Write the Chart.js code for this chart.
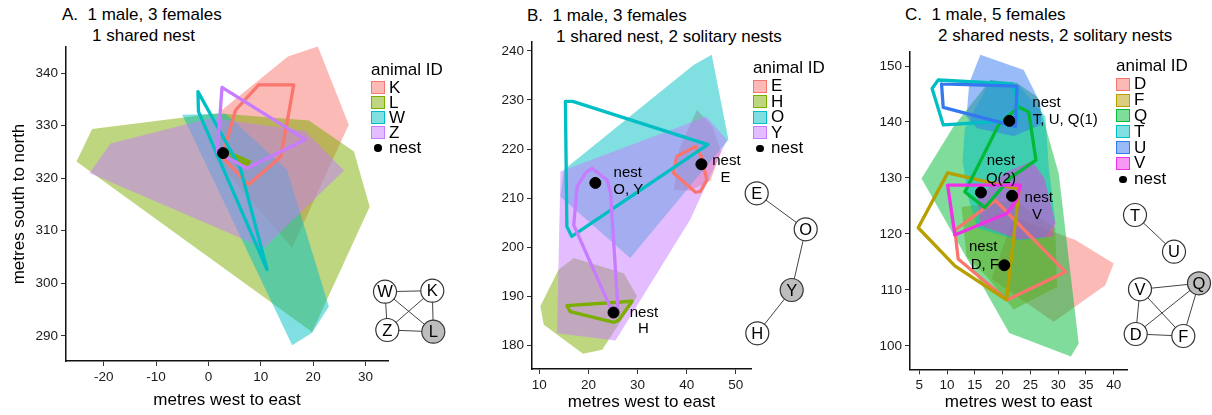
<!DOCTYPE html>
<html>
<head>
<meta charset="utf-8">
<script src="https://cdn.jsdelivr.net/npm/chart.js@4.4.1/dist/chart.umd.min.js"></script>
<style>
  body { margin: 0; width: 1212px; height: 415px; background: #fff; position: relative; overflow: hidden;
         font-family: "Liberation Sans", Arial, sans-serif; color: #000; }
  canvas { position: absolute; }
  .ttl { position: absolute; font-size: 17px; line-height: 20px; white-space: pre; }
  .lgt, .lrow { position: absolute; font-size: 17px; white-space: nowrap; }
  .lgt { line-height: 20px; }
  .lrow { padding-left: 18px; }
  .sw { position: absolute; left: 0; width: 14px; height: 13px; box-sizing: border-box; border: 1.5px solid; }
  .dot { position: absolute; left: 3px; width: 7.5px; height: 7.5px; border-radius: 50%; background: #000; }
</style>
</head>
<body>
<div class="ttl" style="left:62px;top:5px">A.  1 male, 3 females</div>
<div class="ttl" style="left:92px;top:26px">1 shared nest</div>
<div class="ttl" style="left:527px;top:6px">B.  1 male, 3 females</div>
<div class="ttl" style="left:556px;top:27px">1 shared nest, 2 solitary nests</div>
<div class="ttl" style="left:905px;top:5px">C.  1 male, 5 females</div>
<div class="ttl" style="left:938px;top:26px">2 shared nests, 2 solitary nests</div>

<canvas id="panelA" width="1212" height="415" style="left:0;top:0"></canvas>
<canvas id="panelB" width="1212" height="415" style="left:0;top:0"></canvas>
<canvas id="panelC" width="1212" height="415" style="left:0;top:0"></canvas>
<canvas id="netA" width="100" height="80" style="left:355px;top:270px"></canvas>
<canvas id="netB" width="95" height="185" style="left:735px;top:170px"></canvas>
<canvas id="netC" width="100" height="160" style="left:1112px;top:195px"></canvas>

<script>
//  DATA

const hue4 = ['#F8766D', '#7CAE00', '#00BFC4', '#C77CFF'];
const hue6 = ['#F8766D', '#B79F00', '#00BA38', '#00BFC4', '#3378F0', '#F032E6'];

// panel A
const idsA = ['K', 'L', 'W', 'Z'];
const xTicksA = [-20, -10, 0, 10, 20, 30];
const yTicksA = [290, 300, 310, 320, 330, 340];
const rangeA_K = [[20.9, 345.1], [15.2, 343.2], [2.6, 333.0], [1.0, 324.0], [16.0, 306.7], [26.8, 330.2]];
const rangeA_L = [[-25.2, 323.2], [-22.2, 329.4], [1.7, 332.4], [19.2, 331.0], [27.8, 325.1], [30.8, 314.6], [19.8, 290.7]];
const rangeA_W = [[-5.0, 332.1], [3.3, 332.3], [15.0, 321.6], [23.0, 295.6], [19.8, 290.6], [16.0, 288.2]];
const rangeA_Z = [[-22.7, 321.0], [-18.7, 326.6], [0.5, 331.5], [18.5, 329.0], [25.9, 321.5], [10.6, 306.7]];
const coreA_K = [[9.6, 337.8], [16.3, 337.8], [15.0, 330.5], [13.8, 324.1], [7.7, 318.8], [2.6, 324.1], [5.2, 333.0]];
const coreA_L = [[2.6, 325.4], [7.8, 323.2], [7.5, 322.6], [2.9, 324.4]];
const coreA_W = [[-2.0, 336.5], [6.1, 321.9], [11.2, 302.6], [-1.9, 332.7]];
const coreA_Z = [[2.6, 337.3], [18.5, 327.4], [7.4, 321.9], [1.7, 325.0]];
const nestsA = [[2.8, 324.8]];

// panel B
const idsB = ['E', 'H', 'O', 'Y'];
const xTicksB = [10, 20, 30, 40, 50];
const yTicksB = [180, 190, 200, 210, 220, 230, 240];
const rangeB_E = [[42.1, 228.0], [45.3, 224.5], [47.0, 219.5], [44.8, 213.5], [40.5, 211.5], [37.4, 211.7], [38.5, 220.0]];
const rangeB_H = [[10.2, 188.0], [10.9, 184.2], [18.9, 178.3], [22.8, 179.1], [29.9, 190.0], [27.2, 194.7], [17.0, 197.8], [13.9, 195.4]];
const rangeB_O = [[14.3, 210.3], [15.0, 215.8], [41.4, 237.1], [45.1, 239.2], [48.5, 221.9], [28.5, 197.8]];
const rangeB_Y = [[13.6, 182.5], [14.3, 215.4], [44.0, 226.6], [48.2, 221.9], [40.7, 205.6], [25.5, 181.0]];
const coreB_E = [[38.0, 218.5], [41.8, 220.5], [43.0, 218.5], [44.1, 213.7], [42.8, 211.4], [41.8, 211.2], [37.3, 215.1]];
const coreB_H = [[15.6, 188.1], [28.9, 189.0], [26.2, 185.2], [25.2, 184.7], [16.3, 186.9]];
const coreB_O = [[15.3, 229.7], [16.8, 229.7], [44.3, 220.9], [16.6, 202.2], [15.6, 204.2]];
const coreB_Y = [[20.7, 216.1], [23.8, 213.7], [24.5, 211.0], [26.0, 187.5], [24.8, 187.0], [17.0, 204.5], [17.7, 212.4], [19.4, 215.1]];
const nestsB = [[21.4, 213.1], [43.0, 216.9], [25.1, 186.7]];
const nestTextB = [[28.0, 215.2, 'nest'], [28.1, 211.6, 'O, Y'], [48.1, 217.6, 'nest'], [47.9, 214.1, 'E'],
                   [31.3, 186.6, 'nest'], [31.2, 183.3, 'H']];

// panel C
const idsC = ['D', 'F', 'Q', 'T', 'U', 'V'];
const xTicksC = [5, 10, 15, 20, 25, 30, 35, 40];
const yTicksC = [100, 110, 120, 130, 140, 150];
const rangeC_D = [[22.0, 123.0], [33.1, 118.9], [40.0, 114.7], [38.5, 110.8], [29.2, 104.3], [18.0, 112.0]];
const rangeC_F = [[12.6, 124.8], [22.0, 126.0], [29.5, 121.0], [29.8, 110.5], [22.0, 106.5], [17.2, 112.3], [13.5, 116.0]];
const rangeC_Q = [[5.4, 129.9], [11.1, 139.1], [17.8, 147.5], [22.5, 147.0], [26.2, 144.5], [30.1, 130.8], [33.7, 100.4], [32.3, 98.1], [21.2, 102.3]];
const rangeC_T = [[17.8, 147.5], [23.0, 146.5], [27.7, 141.0], [28.3, 132.0], [29.5, 122.0], [27.5, 119.3], [22.9, 118.8], [15.5, 121.0], [13.8, 126.5], [12.8, 133.0], [13.2, 138.9]];
const rangeC_U = [[16.0, 152.0], [23.8, 149.3], [26.8, 143.3], [27.0, 139.5], [22.0, 137.5], [15.4, 138.9], [13.5, 141.0], [14.0, 147.0]];
const rangeC_V = [[20.5, 131.0], [25.3, 133.0], [27.5, 130.0], [29.5, 122.0], [29.0, 119.5], [22.9, 119.0], [16.0, 121.5], [15.5, 126.3]];
const coreC_D = [[18.7, 126.0], [31.3, 113.2], [20.8, 108.2], [12.0, 115.5], [11.4, 120.7]];
const coreC_F = [[10.1, 130.9], [23.0, 128.0], [20.7, 108.2], [11.4, 114.3], [4.8, 121.1]];
const coreC_Q = [[19.3, 139.5], [22.9, 142.7], [24.7, 141.8], [26.0, 133.2], [21.4, 130.0], [16.8, 124.7], [13.2, 127.5]];
const coreC_T = [[8.4, 147.5], [21.7, 146.8], [22.6, 144.2], [22.6, 140.3], [9.3, 139.5], [7.3, 146.0]];
const coreC_U = [[9.0, 146.8], [22.6, 146.4], [22.3, 139.2], [9.3, 142.6]];
const coreC_V = [[10.1, 128.7], [23.2, 128.7], [22.5, 126.0], [20.8, 123.7], [11.4, 119.8]];
const nestsC = [[21.2, 140.2], [16.1, 127.4], [21.7, 126.8], [20.3, 114.4]];
const nestTextC = [[27.9, 143.5, 'nest'], [31.3, 140.3, 'T, U, Q(1)'], [19.7, 133.0, 'nest'], [19.7, 129.8, 'Q(2)'],
                   [26.5, 126.4, 'nest'], [26.2, 123.4, 'V'], [16.5, 117.6, 'nest'], [16.8, 114.4, 'D, F']];

// association networks (layout units = px inside each small canvas)
const netA_names = ['W', 'K', 'Z', 'L'];
const netA_x = [30, 77.3, 32.3, 78.3];
const netA_y = [21.7, 20.7, 60, 61.7];
const netA_edges = [['W', 'K'], ['W', 'Z'], ['W', 'L'], ['K', 'Z'], ['K', 'L'], ['Z', 'L']];
const netA_male = ['L'];

const netB_names = ['E', 'O', 'Y', 'H'];
const netB_x = [21.7, 70.7, 56.7, 22.3];
const netB_y = [23.3, 59.3, 120, 163.3];
const netB_edges = [['E', 'O'], ['O', 'Y'], ['Y', 'H']];
const netB_male = ['Y'];

const netC_names = ['T', 'U', 'V', 'Q', 'D', 'F'];
const netC_x = [23, 62, 28, 87, 23.7, 71.3];
const netC_y = [20, 56.7, 94.3, 88.3, 139, 141];
const netC_edges = [['T', 'U'], ['V', 'Q'], ['V', 'D'], ['V', 'F'], ['Q', 'D'], ['Q', 'F'], ['D', 'F']];
const netC_male = ['Q'];

//  HELPERS

const FONT = '"Liberation Sans", Arial, sans-serif';
Chart.defaults.font.family = FONT;
Chart.defaults.color = '#000';

function hexA(hex, a) {
    const n = parseInt(hex.slice(1), 16);
    return 'rgba(' + (n >> 16) + ',' + ((n >> 8) & 255) + ',' + (n & 255) + ',' + a + ')';
}

function toXY(list) {
    return list.map(p => ({x: p[0], y: p[1]}));
}

function textPlugin(items, size) {
    return {
        id: 'nestText',
        afterDatasetsDraw(chart) {
            const {ctx, scales} = chart;
            ctx.save();
            ctx.font = size + 'px ' + FONT;
            ctx.fillStyle = '#000';
            ctx.textAlign = 'center';
            ctx.textBaseline = 'middle';
            items.forEach(t => ctx.fillText(t[2], scales.x.getPixelForValue(t[0]), scales.y.getPixelForValue(t[1])));
            ctx.restore();
        }
    };
}

function axis(min, max, ticks, title, fitSize, isX, titlePad) {
    return {
        type: 'linear',
        min: min,
        max: max,
        afterBuildTicks: s => { s.ticks = ticks.map(v => ({value: v})); },
        afterFit: s => { if (isX) s.height = fitSize; else s.width = fitSize; },
        grid: {display: true, drawOnChartArea: false, drawTicks: true, tickLength: 5, color: '#333', lineWidth: 1},
        border: {display: true, color: '#111', width: 1.5},
        ticks: {color: '#1a1a1a', font: {size: 13.5}, padding: 3, maxRotation: 0, autoSkip: false},
        title: {display: !!title, text: title, color: '#000', font: {size: 17}, padding: titlePad}
    };
}

function rangeChart(id, p) {
    const datasets = [];
    p.ids.forEach((name, i) => {
        datasets.push({
            label: name, data: toXY(p.ranges[i]), showLine: true, fill: 'shape',
            backgroundColor: hexA(p.colors[i], 0.5), borderColor: 'rgba(0,0,0,0)', borderWidth: 0,
            pointRadius: 0, pointHoverRadius: 0, order: 300 - i
        });
    });
    p.ids.forEach((name, i) => {
        const ring = p.cores[i].concat([p.cores[i][0]]);
        datasets.push({
            label: name + ' core', data: toXY(ring), showLine: true, fill: false,
            borderColor: p.colors[i], borderWidth: 3.3, borderJoinStyle: 'round', borderCapStyle: 'round',
            pointRadius: 0, pointHoverRadius: 0, order: 200 - i
        });
    });
    datasets.push({
        label: 'nest', data: toXY(p.nests), showLine: false,
        pointRadius: 5.5, pointHoverRadius: 5.5, backgroundColor: '#000', borderColor: '#000', order: 0
    });

    return new Chart(document.getElementById(id), {
        type: 'scatter',
        data: {datasets: datasets},
        options: {
            responsive: false,
            animation: false,
            devicePixelRatio: 1,
            layout: {padding: p.pad, autoPadding: false},
            plugins: {legend: {display: false}, tooltip: {enabled: false}},
            scales: {
                x: axis(p.xMin, p.xMax, p.xTicks, 'metres west to east', p.xH, true, {top: 0, bottom: p.xTitlePad}),
                y: axis(p.yMin, p.yMax, p.yTicks, p.yTitle, p.yW, false, {top: p.yTitlePad, bottom: 0})
            }
        },
        plugins: [textPlugin(p.text || [], 15)]
    });
}

function netChart(id, w, h, names, xs, ys, edges, male) {
    const at = nm => { const k = names.indexOf(nm); return {x: xs[k], y: ys[k]}; };
    const datasets = edges.map(e => ({
        data: [at(e[0]), at(e[1])], showLine: true, borderColor: '#444', borderWidth: 1,
        pointRadius: 0, pointHoverRadius: 0, clip: false, order: 10
    }));
    datasets.push({
        data: names.map(at), pointRadius: 11.5, pointHoverRadius: 11.5,
        pointBackgroundColor: names.map(nm => male.includes(nm) ? '#bdbdbd' : '#fff'),
        pointBorderColor: '#333', pointBorderWidth: 1.2, clip: false, order: 0
    });
    const labels = {
        id: 'nodeText',
        afterDatasetsDraw(chart) {
            const {ctx, scales} = chart;
            ctx.save();
            ctx.font = '16.5px ' + FONT;
            ctx.fillStyle = '#000';
            ctx.textAlign = 'center';
            ctx.textBaseline = 'middle';
            names.forEach((nm, k) => ctx.fillText(nm, scales.x.getPixelForValue(xs[k]), scales.y.getPixelForValue(ys[k]) + 1));
            ctx.restore();
        }
    };
    return new Chart(document.getElementById(id), {
        type: 'scatter',
        data: {datasets: datasets},
        options: {
            responsive: false, animation: false, devicePixelRatio: 1,
            layout: {padding: 0, autoPadding: false},
            plugins: {legend: {display: false}, tooltip: {enabled: false}},
            scales: {
                x: {type: 'linear', min: 0, max: w, display: false},
                y: {type: 'linear', min: 0, max: h, reverse: true, display: false}
            }
        },
        plugins: [labels]
    });
}

function buildLegend(left, titleBase, firstRow, rowH, ids, colors) {
    let html = '<div class="lgt" style="left:' + left + 'px;top:' + (titleBase - 15.9) + 'px">animal ID</div>';
    ids.concat(['nest']).forEach((name, i) => {
        const top = firstRow + i * rowH - rowH / 2;
        const mark = i < ids.length
            ? '<span class="sw" style="background:' + hexA(colors[i], 0.5) + ';border-color:' + colors[i] + ';top:' + (rowH / 2 - 6.5) + 'px"></span>'
            : '<span class="dot" style="top:' + (rowH / 2 - 3.2) + 'px"></span>';
        html += '<div class="lrow" style="left:' + left + 'px;top:' + top + 'px;height:' + rowH + 'px;line-height:' + rowH + 'px">' + mark + name + '</div>';
    });
    document.body.insertAdjacentHTML('beforeend', html);
}

//  CHARTS

rangeChart('panelA', {
    ids: idsA, colors: hue4,
    ranges: [rangeA_K, rangeA_L, rangeA_W, rangeA_Z],
    cores: [coreA_K, coreA_L, coreA_W, coreA_Z],
    nests: nestsA,
    xMin: -27.2, xMax: 34.3, yMin: 285.2, yMax: 345.0,
    xTicks: xTicksA, yTicks: yTicksA,
    pad: {left: 0, right: 824, top: 47, bottom: 0},
    yW: 66, xH: 54, xTitlePad: 4, yTitle: 'metres south to north', yTitlePad: 8.8
});

rangeChart('panelB', {
    ids: idsB, colors: hue4,
    ranges: [rangeB_E, rangeB_H, rangeB_O, rangeB_Y],
    cores: [coreB_E, coreB_H, coreB_O, coreB_Y],
    nests: nestsB, text: nestTextB,
    xMin: 8.5, xMax: 53.1, yMin: 175.2, yMax: 241.8,
    xTicks: xTicksB, yTicks: yTicksB,
    pad: {left: 487, right: 461, top: 42, bottom: 0},
    yW: 45, xH: 46, xTitlePad: 2.8, yTitle: '', yTitlePad: 0
});

rangeChart('panelC', {
    ids: idsC, colors: hue6,
    ranges: [rangeC_D, rangeC_F, rangeC_Q, rangeC_T, rangeC_U, rangeC_V],
    cores: [coreC_D, coreC_F, coreC_Q, coreC_T, coreC_U, coreC_V],
    nests: nestsC, text: nestTextC,
    xMin: 3.32, xMax: 42.4, yMin: 95.8, yMax: 152.56,
    xTicks: xTicksC, yTicks: yTicksC,
    pad: {left: 865, right: 85, top: 51.7, bottom: 0},
    yW: 45, xH: 45.7, xTitlePad: 2.8, yTitle: '', yTitlePad: 0
});

netChart('netA', 100, 80, netA_names, netA_x, netA_y, netA_edges, netA_male);
netChart('netB', 95, 185, netB_names, netB_x, netB_y, netB_edges, netB_male);
netChart('netC', 100, 160, netC_names, netC_x, netC_y, netC_edges, netC_male);

buildLegend(371, 76, 87.3, 15.0, idsA, hue4);
buildLegend(753, 74, 86, 15.5, idsB, hue4);
buildLegend(1116, 71.7, 84.3, 15.8, idsC, hue6);
</script>
</body>
</html>
